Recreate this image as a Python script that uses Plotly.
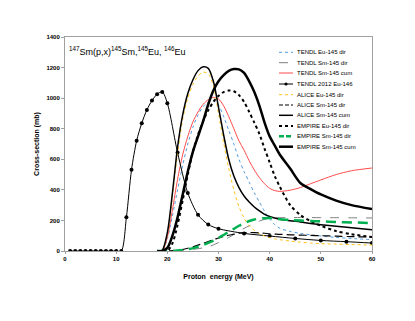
import plotly.graph_objects as go

# TENDL 2012 Eu-146 (points with markers)
e_eu146 = [1, 2, 3, 4, 5, 6, 7, 8, 9, 10, 11, 12, 13, 14, 15, 16, 17, 18, 19, 20,
           22, 24, 26, 28, 30, 35, 40, 45, 50, 55, 60]
xs_eu146 = [0, 0, 0, 0, 0, 0, 0, 0, 0, 0, 0, 220, 531, 721, 836, 923, 984, 1026, 1041, 967,
            644, 379, 237, 173, 146, 115, 98, 82, 69, 61, 52]

# energy grid for the model curves
e_calc = [18, 19, 20, 21, 22, 23, 24, 25, 26, 27, 28, 29, 30, 31, 32, 33, 34, 35, 36, 37,
          38, 39, 40, 41, 42, 44, 46, 48, 50, 53, 56, 60]

tendl_eu145_dir = [0, 0, 80, 230, 400, 560, 700, 810, 890, 945, 975, 985, 955, 880, 790, 700,
                   600, 520, 450, 380, 320, 260, 210, 172, 148, 128, 115, 106, 98, 89, 82, 74]
tendl_sm145_dir = [0, 0, 0, 1, 3, 5, 8, 11, 15, 21, 28, 40, 55, 70, 88, 108,
                   128, 148, 165, 182, 196, 207, 213, 216, 218, 219, 219, 219, 218, 218, 217, 216]
tendl_sm145_cum = [0, 0, 90, 270, 470, 630, 750, 845, 910, 960, 990, 1005, 995, 950, 880, 800,
                   720, 660, 590, 530, 480, 440, 410, 395, 390, 398, 415, 440, 465, 500, 525, 543]
alice_eu145_dir = [0, 0, 110, 360, 640, 860, 1000, 1090, 1145, 1170, 1160, 1080, 900, 710, 540, 400,
                   290, 215, 165, 135, 115, 98, 88, 80, 74, 65, 58, 52, 48, 45, 42, 39]
alice_sm145_dir = [0, 0, 0, 2, 5, 10, 18, 27, 38, 50, 62, 74, 85, 95, 103, 110,
                   116, 120, 121, 120, 118, 116, 113, 111, 109, 106, 104, 102, 100, 97, 94, 91]
alice_sm145_cum = [0, 5, 120, 380, 680, 890, 1030, 1120, 1180, 1205, 1195, 1110, 940, 760, 600, 490,
                   415, 360, 320, 288, 262, 240, 226, 216, 208, 198, 190, 180, 172, 162, 152, 139]
empire_eu145_dir = [0, 0, 0, 50, 170, 330, 500, 650, 760, 850, 920, 975, 1015, 1040, 1050, 1045,
                    1020, 975, 910, 840, 765, 670, 580, 490, 420, 300, 235, 195, 165, 130, 110, 91]
empire_sm145_dir = [0, 0, 0, 1, 3, 6, 12, 19, 28, 40, 53, 68, 85, 105, 125, 145,
                    165, 182, 196, 206, 212, 215, 216, 212, 208, 203, 199, 196, 194, 190, 187, 183]
empire_sm145_cum = [0, 0, 20, 100, 220, 370, 520, 650, 750, 850, 960, 1050, 1110, 1150, 1178, 1190,
                    1188, 1165, 1110, 1040, 950, 840, 750, 690, 630, 540, 445, 405, 370, 330, 300, 274]

legend_names = ["TENDL Eu-145 dir", "TENDL Sm-145 dir", "TENDL Sm-145 cum", "TENDL 2012 Eu-146",
                "ALICE Eu-145 dir", "ALICE Sm-145 dir", "ALICE Sm-145 cum", "EMPIRE Eu-145 dir",
                "EMPIRE Sm-145 dir", "EMPIRE Sm-145 cum"]

# style per legend entry: (color, width, dash)
styles = [
    ("#4f9be0", 1, "dot"),
    ("#7f7f7f", 1, "dash"),
    ("#ff4b4b", 1, "solid"),
    ("#000000", 1, "solid"),
    ("#ffc21a", 1, "dot"),
    ("#000000", 1.2, "8px,4px"),
    ("#000000", 1.5, "solid"),
    ("#000000", 2, "dot"),
    ("#00b050", 2.5, "10px,6px"),
    ("#000000", 2.5, "solid"),
]

series = [tendl_eu145_dir, tendl_sm145_dir, tendl_sm145_cum, None, alice_eu145_dir,
          alice_sm145_dir, alice_sm145_cum, empire_eu145_dir, empire_sm145_dir, empire_sm145_cum]

fig = go.Figure()
for name, ys, (col, w, dash) in zip(legend_names, series, styles):
    if ys is None:
        fig.add_trace(go.Scatter(x=e_eu146, y=xs_eu146, mode="lines+markers", name=name,
                                 line=dict(color=col, width=w, shape="spline", smoothing=0.8),
                                 marker=dict(color="black", size=4), showlegend=False))
    else:
        fig.add_trace(go.Scatter(x=e_calc, y=ys, mode="lines", name=name,
                                 line=dict(color=col, width=w, dash=dash, shape="spline", smoothing=0.8),
                                 showlegend=False))

# page body has an 8px margin, so the figure is drawn 8px smaller/shifted
OFF = 8
W, H = 415 - OFF, 321 - OFF
# plot box in screen pixels
L, R, T, B = 65, 372, 37, 251
def px2paper(px, py):
    return (px - L) / (R - L), (B - py) / (B - T)

# hand drawn legend (plotly legend rows are too tall for this size)
row_y = [52.3, 62.7, 73, 84, 94.7, 105, 115.3, 126, 136.3, 146.7]
shapes = []
annots = []
for name, (col, w, dash), py in zip(legend_names, styles, row_y):
    x0, y0 = px2paper(279, py)
    x1, _ = px2paper(293, py)
    shapes.append(dict(type="line", xref="paper", yref="paper", x0=x0, x1=x1, y0=y0, y1=y0,
                       line=dict(color=col, width=w, dash=dash.replace("10px,6px", "5px,2px").replace("8px,4px", "4px,2px"))))
    if name == "TENDL 2012 Eu-146":
        cx, cy = px2paper(286, py)
        dx = 1.6 / (R - L)
        dy = 1.6 / (B - T)
        shapes.append(dict(type="circle", xref="paper", yref="paper", x0=cx - dx, x1=cx + dx,
                           y0=cy - dy, y1=cy + dy, fillcolor="black", line=dict(width=0)))
    tx, _ = px2paper(294.5, py)
    annots.append(dict(text=name, xref="paper", yref="paper", x=tx, y=y0, xanchor="left",
                       yanchor="middle", showarrow=False,
                       font=dict(family="Arial", size=6, color="black")))

annots.append(dict(text="<sup>147</sup>Sm(p,x)<sup>145</sup>Sm,<sup>145</sup>Eu, <sup>146</sup>Eu",
                   xref="paper", yref="paper", x=px2paper(67, 0)[0], y=px2paper(0, 51)[1],
                   xanchor="left", yanchor="middle", showarrow=False,
                   font=dict(family="Arial", size=9, color="black")))

fig.update_layout(
    width=W, height=H,
    margin=dict(l=L - OFF, r=W - (R - OFF), t=T - OFF, b=H - (B - OFF)),
    paper_bgcolor="white", plot_bgcolor="white",
    shapes=shapes, annotations=annots,
    font=dict(family="Arial", color="black"),
)
fig.update_xaxes(range=[0, 60], dtick=10, showgrid=False, zeroline=False, automargin=False,
                 showline=True, linecolor="#a0a0a0", linewidth=1, mirror=True,
                 ticks="outside", ticklen=2, tickcolor="#a0a0a0",
                 tickfont=dict(size=6, weight="bold"),
                 title=dict(text="Proton  energy (MeV)", font=dict(size=7, weight="bold"), standoff=12))
fig.update_yaxes(range=[0, 1400], dtick=200, showgrid=False, zeroline=False, automargin=False,
                 showline=True, linecolor="#a0a0a0", linewidth=1, mirror=True,
                 ticks="outside", ticklen=3, tickcolor="#a0a0a0",
                 tickfont=dict(size=6, weight="bold"),
                 title=dict(text="Cross-section (mb)", font=dict(size=7, weight="bold"), standoff=5))

fig.write_html("out.html")
